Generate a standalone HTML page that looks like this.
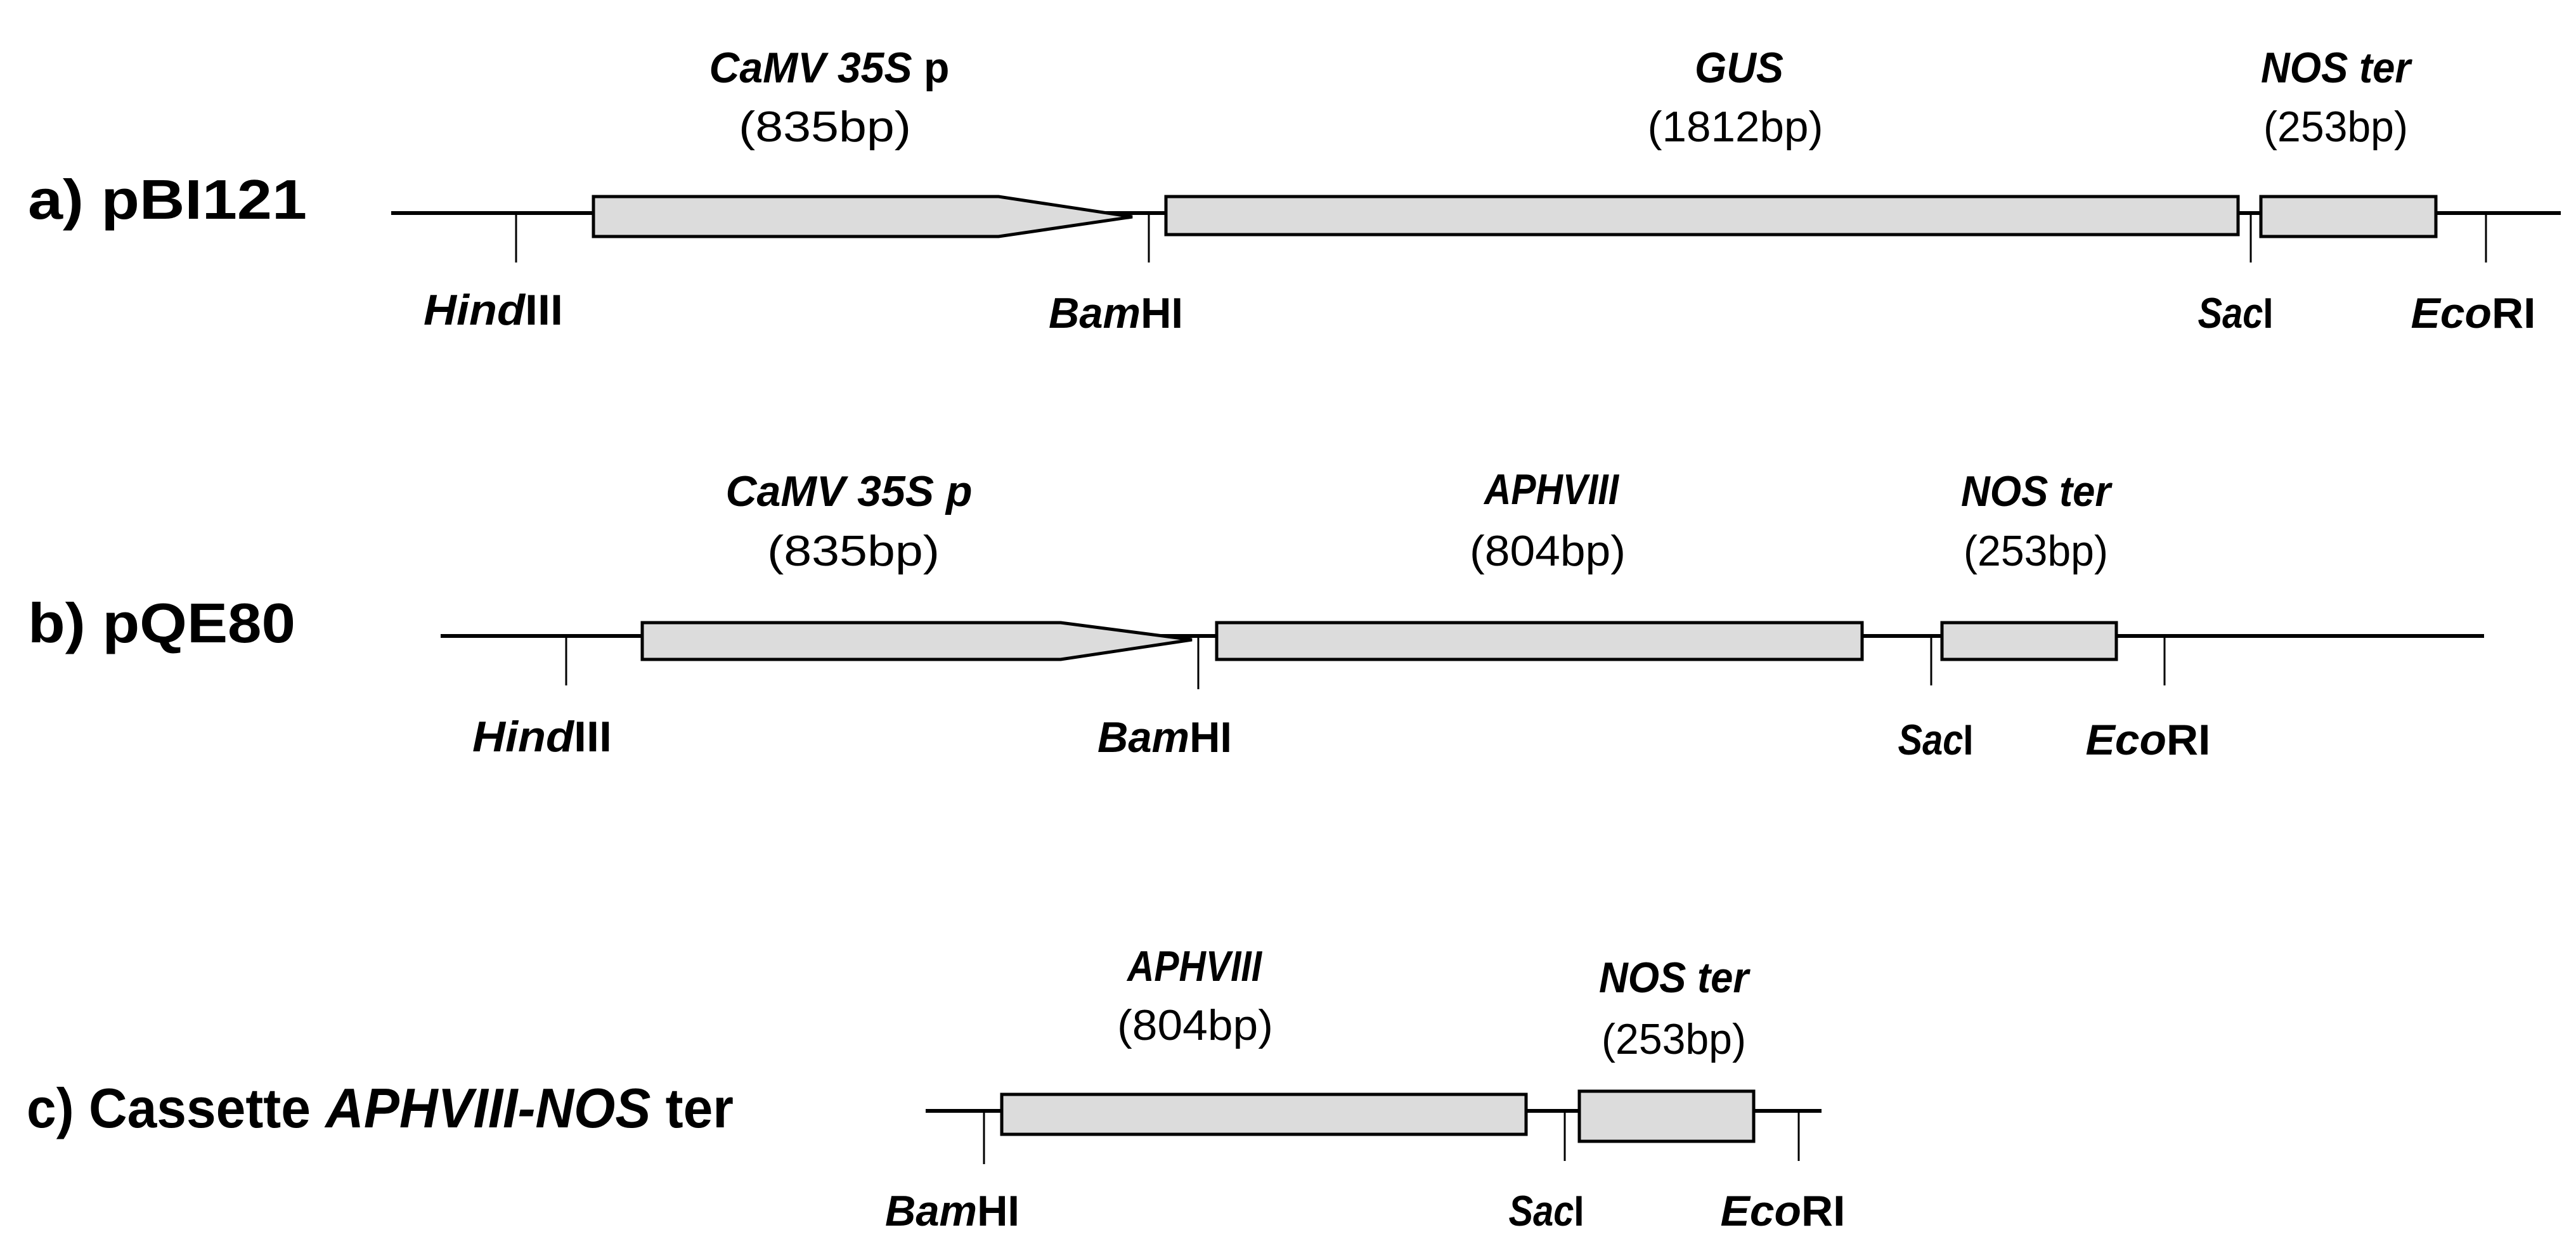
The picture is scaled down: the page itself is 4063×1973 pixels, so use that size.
<!DOCTYPE html>
<html><head><meta charset="utf-8"><style>html,body{margin:0;padding:0;background:#fff}svg{display:block}</style></head>
<body>
<svg width="4063" height="1973" viewBox="0 0 4063 1973" xmlns="http://www.w3.org/2000/svg" font-family="'Liberation Sans', sans-serif">
<g stroke="#000" fill="#dcdcdc">
<!-- Row a -->
<line x1="617" y1="336" x2="4039" y2="336" stroke-width="6"/>
<line x1="814" y1="336" x2="814" y2="414" stroke-width="3"/>
<line x1="1812" y1="336" x2="1812" y2="414" stroke-width="3"/>
<line x1="3550" y1="336" x2="3550" y2="414" stroke-width="3"/>
<line x1="3921" y1="336" x2="3921" y2="414" stroke-width="3"/>
<polygon points="936,310 1575,310 1786,342 1575,373 936,373" stroke-width="5"/>
<rect x="1839" y="310" width="1691" height="60" stroke-width="5"/>
<rect x="3566" y="310" width="276" height="63" stroke-width="5"/>
<!-- Row b -->
<line x1="695" y1="1003" x2="3918" y2="1003" stroke-width="6"/>
<line x1="893" y1="1003" x2="893" y2="1081" stroke-width="3"/>
<line x1="1890" y1="1003" x2="1890" y2="1087" stroke-width="3"/>
<line x1="3046" y1="1003" x2="3046" y2="1081" stroke-width="3"/>
<line x1="3414" y1="1003" x2="3414" y2="1081" stroke-width="3"/>
<polygon points="1013,982 1673,982 1880,1009 1673,1040 1013,1040" stroke-width="5"/>
<rect x="1919" y="982" width="1018" height="58" stroke-width="5"/>
<rect x="3063" y="982" width="275" height="58" stroke-width="5"/>
<!-- Row c -->
<line x1="1460" y1="1752" x2="2873" y2="1752" stroke-width="6"/>
<line x1="1552" y1="1752" x2="1552" y2="1836" stroke-width="3"/>
<line x1="2468" y1="1752" x2="2468" y2="1831" stroke-width="3"/>
<line x1="2837" y1="1752" x2="2837" y2="1831" stroke-width="3"/>
<rect x="1580" y="1726" width="827" height="63" stroke-width="5"/>
<rect x="2491" y="1721" width="275" height="79" stroke-width="5"/>
</g>
<g fill="#000" font-size="68" text-anchor="middle">
<text x="44" y="345" text-anchor="start" font-weight="bold" font-size="88" textLength="440" lengthAdjust="spacingAndGlyphs">a)  pBI121</text>
<text x="44" y="1013" text-anchor="start" font-weight="bold" font-size="88" textLength="422" lengthAdjust="spacingAndGlyphs">b)  pQE80</text>
<text x="42" y="1778" text-anchor="start" font-weight="bold" font-size="88" textLength="1115" lengthAdjust="spacingAndGlyphs">c) Cassette <tspan font-style="italic">APHVIII-NOS</tspan> ter</text>

<text x="1308" y="130" font-weight="bold" textLength="379" lengthAdjust="spacingAndGlyphs"><tspan font-style="italic">CaMV 35S</tspan> p</text>
<text x="1301" y="223" textLength="272" lengthAdjust="spacingAndGlyphs">(835bp)</text>
<text x="2743" y="130" font-weight="bold" font-style="italic" textLength="140" lengthAdjust="spacingAndGlyphs">GUS</text>
<text x="2737" y="223" textLength="277" lengthAdjust="spacingAndGlyphs">(1812bp)</text>
<text x="3684" y="130" font-weight="bold" font-style="italic" textLength="236" lengthAdjust="spacingAndGlyphs">NOS ter</text>
<text x="3684" y="223" textLength="228" lengthAdjust="spacingAndGlyphs">(253bp)</text>
<text x="778" y="512" font-weight="bold" textLength="220" lengthAdjust="spacingAndGlyphs"><tspan font-style="italic">Hind</tspan>III</text>
<text x="1760" y="517" font-weight="bold" textLength="212" lengthAdjust="spacingAndGlyphs"><tspan font-style="italic">Bam</tspan>HI</text>
<text x="3526" y="517" font-weight="bold" textLength="119" lengthAdjust="spacingAndGlyphs"><tspan font-style="italic">Sac</tspan>I</text>
<text x="3901" y="517" font-weight="bold" textLength="197" lengthAdjust="spacingAndGlyphs"><tspan font-style="italic">Eco</tspan>RI</text>

<text x="1339" y="798" font-weight="bold" font-style="italic" textLength="389" lengthAdjust="spacingAndGlyphs">CaMV 35S p</text>
<text x="1346" y="892" textLength="272" lengthAdjust="spacingAndGlyphs">(835bp)</text>
<text x="2447" y="795" font-weight="bold" font-style="italic" textLength="212" lengthAdjust="spacingAndGlyphs">APHVIII</text>
<text x="2441" y="892" textLength="246" lengthAdjust="spacingAndGlyphs">(804bp)</text>
<text x="3211" y="798" font-weight="bold" font-style="italic" textLength="236" lengthAdjust="spacingAndGlyphs">NOS ter</text>
<text x="3211" y="892" textLength="228" lengthAdjust="spacingAndGlyphs">(253bp)</text>
<text x="855" y="1185" font-weight="bold" textLength="220" lengthAdjust="spacingAndGlyphs"><tspan font-style="italic">Hind</tspan>III</text>
<text x="1837" y="1186" font-weight="bold" textLength="212" lengthAdjust="spacingAndGlyphs"><tspan font-style="italic">Bam</tspan>HI</text>
<text x="3053" y="1190" font-weight="bold" textLength="119" lengthAdjust="spacingAndGlyphs"><tspan font-style="italic">Sac</tspan>I</text>
<text x="3388" y="1190" font-weight="bold" textLength="197" lengthAdjust="spacingAndGlyphs"><tspan font-style="italic">Eco</tspan>RI</text>

<text x="1884" y="1547" font-weight="bold" font-style="italic" textLength="212" lengthAdjust="spacingAndGlyphs">APHVIII</text>
<text x="1885" y="1640" textLength="246" lengthAdjust="spacingAndGlyphs">(804bp)</text>
<text x="2640" y="1565" font-weight="bold" font-style="italic" textLength="236" lengthAdjust="spacingAndGlyphs">NOS ter</text>
<text x="2640" y="1662" textLength="228" lengthAdjust="spacingAndGlyphs">(253bp)</text>
<text x="1502" y="1933" font-weight="bold" textLength="212" lengthAdjust="spacingAndGlyphs"><tspan font-style="italic">Bam</tspan>HI</text>
<text x="2439" y="1933" font-weight="bold" textLength="119" lengthAdjust="spacingAndGlyphs"><tspan font-style="italic">Sac</tspan>I</text>
<text x="2812" y="1933" font-weight="bold" textLength="197" lengthAdjust="spacingAndGlyphs"><tspan font-style="italic">Eco</tspan>RI</text>
</g>
</svg>
</body></html>
